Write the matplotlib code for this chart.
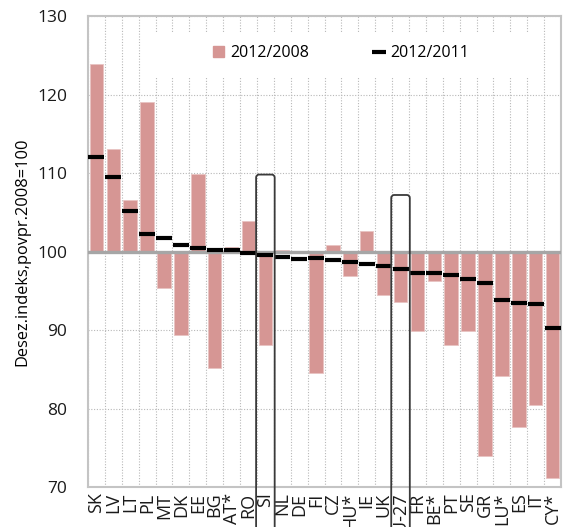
import matplotlib
matplotlib.use("Agg")
import matplotlib.pyplot as plt
import matplotlib.patches as patches
from matplotlib.lines import Line2D
import numpy as np

plt.rcParams['font.family'] = ['Open Sans', 'DejaVu Sans']

# data
countries = ['SK', 'LV', 'LT', 'PL', 'MT', 'DK', 'EE', 'BG', 'AT*', 'RO', 'SI',
             'NL', 'DE', 'FI', 'CZ', 'HU*', 'IE', 'UK', 'EU-27', 'FR', 'BE*',
             'PT', 'SE', 'GR', 'LU*', 'ES', 'IT', 'CY*']
idx_2008 = [123.9, 113.0, 106.6, 119.1, 95.3, 89.4, 109.9, 85.2, 100.6, 103.9,
            88.1, 100.2, 99.8, 84.5, 100.8, 96.9, 102.6, 94.4, 93.6, 89.9, 96.2,
            88.1, 89.9, 74.0, 84.2, 77.7, 80.5, 71.2]
idx_2011 = [112.0, 109.5, 105.2, 102.2, 101.7, 100.8, 100.4, 100.2, 100.2, 99.8,
            99.5, 99.3, 99.1, 99.2, 98.9, 98.7, 98.4, 98.1, 97.8, 97.3, 97.3,
            97.0, 96.5, 96.0, 93.8, 93.5, 93.3, 90.3]
highlight_cats = ['SI', 'EU-27']
highlight_tops = [109.8, 107.2]

bar_color = '#d69694'
grid_color = '#b8b8b8'

fig = plt.figure(figsize=(5.65, 5.27), dpi=100)
ax = fig.add_axes([0.1558, 0.0759, 0.8371, 0.8937])

x = np.arange(len(countries))
ax.bar(x, np.array(idx_2008) - 100, bottom=100, width=0.8, color=bar_color,
       edgecolor='#e8c4c2', linewidth=0.6, zorder=2)
ax.plot(x, idx_2011, linestyle='none', marker='_', markersize=12,
        markeredgewidth=3, color='black', zorder=4)

ax.set_xlim(-0.5, len(countries) - 0.5)
ax.set_ylim(70, 130)
ax.set_yticks(np.arange(70, 131, 10))

# vertical dotted lines between categories
ax.set_xticks(x)
ax.set_xticklabels(countries, rotation=90)
ax.set_xticks(np.arange(-0.5, len(countries), 1), minor=True)
ax.grid(True, which='minor', axis='x', color=grid_color, linestyle=(0, (1, 1.5)),
        linewidth=0.8, zorder=0)
ax.grid(True, which='major', axis='y', color=grid_color, linestyle=(0, (1, 1.5)),
        linewidth=0.8, zorder=0)
ax.set_axisbelow(True)
ax.axhline(100, color='#a6a6a6', linewidth=2.4, zorder=3)

ax.tick_params(axis='both', which='both', length=0, colors='#1a1a1a')
ax.tick_params(axis='y', pad=15, labelsize=12.5)
ax.tick_params(axis='x', pad=4, labelsize=13)
for s in ax.spines.values():
    s.set_color('#c4c4c4')
    s.set_linewidth(1.5)

ax.set_ylabel('Desez.indeks,povpr.2008=100', fontsize=11.8, labelpad=5)

# white band behind the legend
ax.add_patch(patches.Rectangle((0.125, 0.870), 0.826, 0.096, transform=ax.transAxes,
                               facecolor='white', edgecolor='none', zorder=1))

# highlight boxes around SI and EU-27
aspect = (ax.get_ylim()[1] - ax.get_ylim()[0]) / 471 * (473 / len(countries))
for cat, top in zip(highlight_cats, highlight_tops):
    i = countries.index(cat)
    box = patches.FancyBboxPatch((i - 0.55, 55), 1.1, top - 55,
                                 boxstyle='round,pad=0,rounding_size=0.18',
                                 mutation_aspect=aspect, facecolor='none',
                                 edgecolor='#3a3a3a', linewidth=1.3,
                                 clip_on=False, zorder=5)
    ax.add_patch(box)

handles = [patches.Patch(color=bar_color, label='2012/2008'),
           Line2D([], [], color='black', linestyle='none', marker='_',
                  markersize=10, markeredgewidth=3, label='2012/2011')]
ax.legend(handles=handles, ncol=2, loc='center', bbox_to_anchor=(0.535, 0.921),
          frameon=False, fontsize=11.5, handlelength=0.7, handletextpad=0.4,
          columnspacing=4.0)

plt.savefig('out.png', dpi=100, facecolor='white')
plt.close()
